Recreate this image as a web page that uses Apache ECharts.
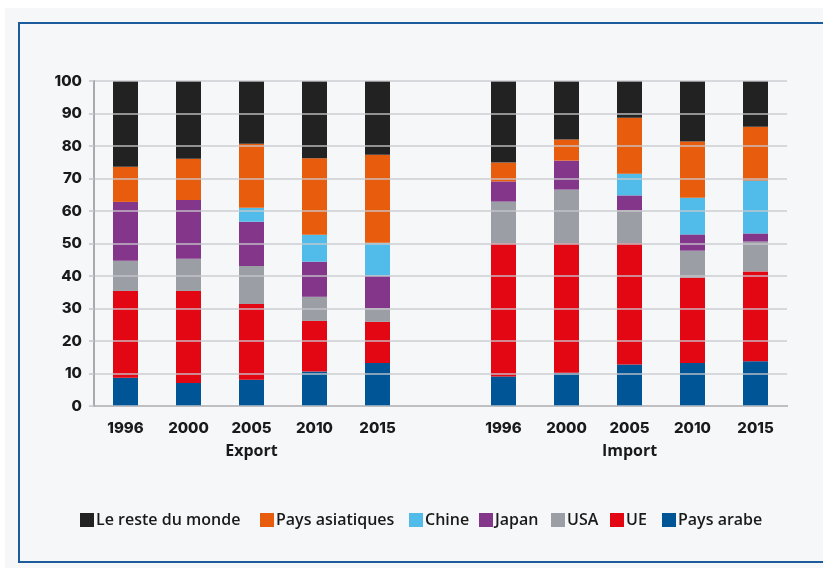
<!DOCTYPE html>
<html>
<head>
<meta charset="utf-8">
<script src="https://cdn.jsdelivr.net/npm/echarts@6/dist/echarts.min.js"></script>
<style>
  html, body { margin: 0; padding: 0; background: #ffffff; width: 823px; height: 568px; overflow: hidden; }
  #bg { position: absolute; left: 5px; top: 8px; right: 0; bottom: 0; background: #f5f7f9; }
  #frame { position: absolute; left: 18px; top: 22px; width: 830px; height: 537px;
           border-left: 2px solid #1d5c9c; border-top: 2px solid #1d5c9c; border-bottom: 2px solid #1d5c9c; }
  #chart { position: absolute; left: 0; top: 0; width: 823px; height: 568px; }
</style>
</head>
<body>
<div id="bg"></div>
<div id="frame"></div>
<div id="chart"></div>
<script>
// ---- Data ----
const years = ['1996', '2000', '2005', '2010', '2015'];
const groups = ['Export', 'Import'];
const yTicks = [0, 10, 20, 30, 40, 50, 60, 70, 80, 90, 100];

const seriesNames = ['Pays arabe', 'UE', 'USA', 'Japan', 'Chine', 'Pays asiatiques', 'Le reste du monde'];
const legendOrder = ['Le reste du monde', 'Pays asiatiques', 'Chine', 'Japan', 'USA', 'UE', 'Pays arabe'];

// Export shares (%)
const exportArabe      = [8.7, 7.1, 8.1, 10.6, 13.2];
const exportUE         = [26.7, 28.3, 23.3, 15.6, 12.7];
const exportUSA        = [9.3, 9.9, 11.7, 7.4, 4.2];
const exportJapan      = [18.1, 18.1, 13.6, 10.8, 10.0];
const exportChine      = [0, 0, 4.3, 8.3, 10.1];
const exportAsiatiques = [10.8, 12.7, 19.7, 23.5, 27.1];
const exportReste      = [26.4, 23.9, 19.3, 23.8, 22.7];

// Import shares (%)
const importArabe      = [9.1, 10.2, 12.8, 13.2, 13.8];
const importUE         = [41.0, 39.9, 37.3, 26.3, 27.6];
const importUSA        = [12.8, 16.5, 10.1, 8.3, 9.2];
const importJapan      = [6.2, 8.9, 4.6, 5.0, 2.5];
const importChine      = [0, 0, 6.7, 11.3, 16.3];
const importAsiatiques = [5.8, 6.5, 17.2, 17.3, 16.5];
const importReste      = [25.1, 18.0, 11.3, 18.6, 14.1];

const colors = {
  'Pays arabe': '#005597',
  'UE': '#e30613',
  'USA': '#9b9ea4',
  'Japan': '#84368b',
  'Chine': '#51bce9',
  'Pays asiatiques': '#e85c0d',
  'Le reste du monde': '#222222'
};

// ---- Build ----
const categories = years.concat(['']).concat(years);
const groupLabels = ['', '', groups[0], '', '', '', '', '', groups[1], '', ''];

const pairs = {
  'Pays arabe': [exportArabe, importArabe],
  'UE': [exportUE, importUE],
  'USA': [exportUSA, importUSA],
  'Japan': [exportJapan, importJapan],
  'Chine': [exportChine, importChine],
  'Pays asiatiques': [exportAsiatiques, importAsiatiques],
  'Le reste du monde': [exportReste, importReste]
};

const series = seriesNames.map(n => ({
  name: n,
  type: 'bar',
  stack: 'total',
  barWidth: 25,
  itemStyle: { color: colors[n] },
  data: pairs[n][0].concat([null]).concat(pairs[n][1])
}));

const legendLefts = [80, 260, 409, 479, 551, 610, 662];
const legends = legendOrder.map((n, i) => ({
  data: [n],
  left: legendLefts[i],
  top: 512,
  padding: 0,
  itemWidth: 14,
  itemHeight: 14,
  icon: 'rect',
  selectedMode: false,
  textStyle: { fontFamily: 'Open Sans', fontSize: 16, fontWeight: 600, color: '#1a1a1a', padding: [0, 0, 0, -3] }
}));

const chart = echarts.init(document.getElementById('chart'), null, { renderer: 'canvas' });
chart.setOption({
  backgroundColor: 'transparent',
  animation: false,
  grid: { left: 94, right: 36, top: 81, bottom: 162, containLabel: false },
  legend: legends,
  xAxis: [{
    type: 'category',
    data: categories,
    axisLine: { show: true, lineStyle: { color: '#a9aaae', width: 2 } },
    axisTick: { show: false },
    axisLabel: { interval: 0, margin: 15, fontFamily: 'Inter', fontWeight: 800, fontSize: 15, color: '#1a1a1a' },
    splitLine: { show: false }
  }, {
    type: 'category',
    data: groupLabels,
    position: 'bottom',
    gridIndex: 0,
    axisLine: { show: false },
    axisTick: { show: false },
    axisLabel: { interval: 0, margin: 37, fontFamily: 'Open Sans', fontWeight: 700, fontSize: 16, color: '#1a1a1a' },
    splitLine: { show: false }
  }],
  yAxis: {
    type: 'value',
    min: yTicks[0],
    max: yTicks[yTicks.length - 1],
    interval: 10,
    z: 5,
    axisLine: { show: true, lineStyle: { color: '#a9aaae', width: 2 } },
    axisTick: { show: true, length: 5, lineStyle: { color: '#c4c5c9', width: 1.5 } },
    axisLabel: { margin: 12, fontFamily: 'Inter', fontWeight: 800, fontSize: 15, color: '#1a1a1a' },
    splitLine: { show: true, lineStyle: { color: 'rgba(200,201,205,0.9)', width: 1.5 } }
  },
  series: series
});
</script>
</body>
</html>
